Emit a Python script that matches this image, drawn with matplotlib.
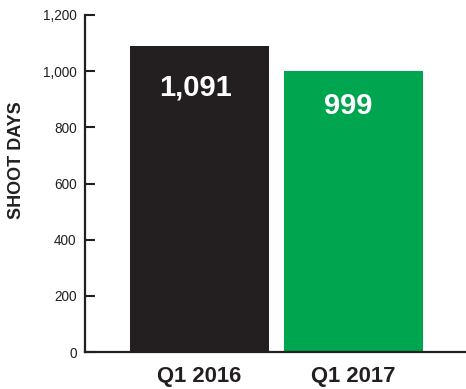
import matplotlib
matplotlib.use("Agg")
import matplotlib.pyplot as plt

categories = ["Q1 2016", "Q1 2017"]
values = [1091, 999]
value_labels = ["1,091", "999"]
bar_colors = ["#231F20", "#00A54F"]
yticks = [0, 200, 400, 600, 800, 1000, 1200]
ytick_labels = ["0", "200", "400", "600", "800", "1,000", "1,200"]

base = "Liberation Sans"

W, H = 466, 389
fig = plt.figure(figsize=(W / 100, H / 100), dpi=100)
ax = fig.add_axes([85 / W, 37 / H, (W - 85) / W, 337 / H])

x = list(range(len(categories)))
ax.bar(x, values, width=0.9, color=bar_colors, zorder=2)

ax.set_xlim(-0.743, 1.73)
ax.set_ylim(0, 1200)

for s in ["top", "right"]:
    ax.spines[s].set_visible(False)
for s in ["left", "bottom"]:
    ax.spines[s].set_color("#231F20")
    ax.spines[s].set_linewidth(1.6)
    ax.spines[s].set_zorder(3)

ax.set_yticks(yticks)
ax.set_yticklabels(ytick_labels, fontfamily=base, fontsize=9.8, color="#231F20")
ax.tick_params(axis="y", direction="in", length=7, width=1.5, color="#231F20", pad=6)
ax.set_xticks(x)
ax.set_xticklabels(categories, fontfamily=base, fontweight="bold", fontsize=15.8, color="#231F20")
ax.tick_params(axis="x", length=0, pad=10)

ax.set_ylabel("SHOOT DAYS", fontfamily=base, fontweight="bold", fontsize=13, color="#231F20")
ax.yaxis.label.set_va("center")
ax.yaxis.set_label_coords(-0.181, 0.57)

offsets = [(-3, -30), (-4, -25)]
for xi, v, lab, off in zip(x, values, value_labels, offsets):
    ax.annotate(lab, (xi, v), xytext=off, textcoords="offset points",
                ha="center", va="center", color="white", fontfamily=base,
                fontweight="bold", fontsize=21, zorder=4)

fig.savefig("out.png", dpi=100)
